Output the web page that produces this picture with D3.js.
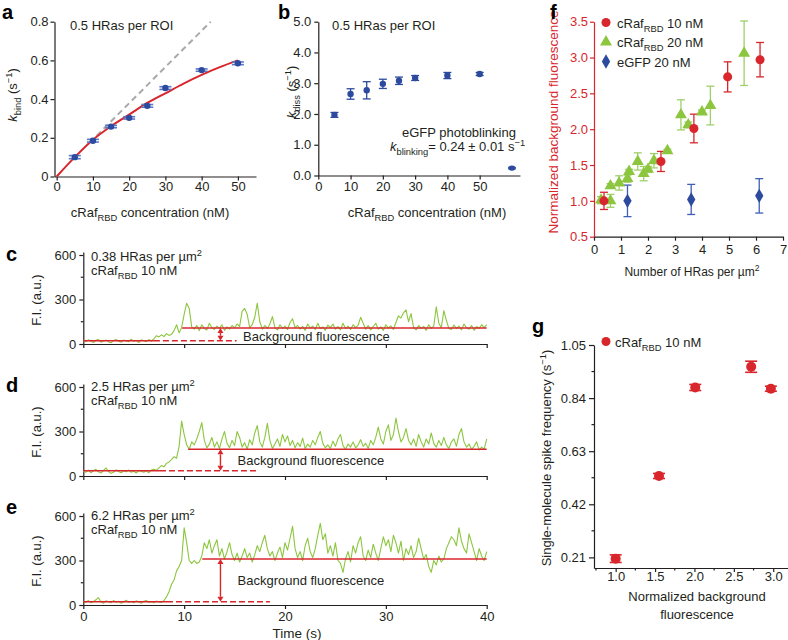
<!DOCTYPE html>
<html><head><meta charset="utf-8">
<script src="https://cdn.jsdelivr.net/npm/d3@7"></script>
<style>
body{margin:0;background:#fff;}
svg{font-family:"Liberation Sans",Arial,Helvetica,sans-serif;}
</style></head><body>
<svg id="fig" width="788" height="640"></svg>
<script>
// ---------------- DATA ----------------
// panel a
const concA = [5,10,15,20,25,30,40,50];
const kBind = [0.100,0.185,0.258,0.303,0.365,0.457,0.550,0.585];
const kBindErr = [0.008,0.007,0.006,0.006,0.007,0.007,0.006,0.007];
const fitConc = [0,5,10,15,20,25,30,35,40,45,50];
const fitK = [0,0.10,0.19,0.26,0.32,0.38,0.43,0.48,0.525,0.565,0.60];
const slopeConc = [11,42.5];
const slopeK = [0.21,0.80];
// panel b
const concB = [5,10,15,20,25,30,40,50];
const kDiss = [1.97,2.65,2.77,2.98,3.08,3.17,3.25,3.30];
const kDissErr = [0.08,0.17,0.28,0.15,0.12,0.08,0.10,0.05];
const blinkX = [60];
const blinkK = [0.24];
const blinkErr = [0.02];
// panels c, d, e : fluorescence traces (0..40 s, 0.25 s steps)
const traceC = [22,15,28,18,10,25,30,12,20,26,14,8,24,30,18,12,26,20,15,32,18,24,10,28,22,16,30,20,
 35,55,48,62,50,70,58,65,90,130,75,110,200,275,240,115,
 100,125,90,130,105,95,140,110,98,120,105,130,92,115,100,125,108,135,118,
 220,240,200,110,130,180,275,150,100,125,105,135,185,110,95,130,105,120,98,145,170,110,
 125,100,118,92,135,108,120,98,140,105,115,92,128,110,135,100,118,95,140,105,120,98,130,110,125,
 180,140,
 100,125,95,118,140,100,115,92,130,108,122,98,145,
 190,175,210,230,150,205,110,
 95,125,105,118,92,130,105,120,
 250,140,110,225,160,
 105,98,128,105,120,95,135,110,100,125,92,118,105,130,110,130];
const traceD = [30,25,40,22,35,45,28,20,38,55,30,18,25,42,30,22,35,28,40,25,32,20,38,30,26,35,22,40,
 45,38,55,70,62,85,95,110,130,120,200,370,280,210,180,230,
 210,250,300,360,240,190,215,260,195,230,185,250,300,220,190,240,205,300,260,195,
 225,180,245,210,290,340,230,195,260,355,240,185,215,250,200,280,230,270,205,240,
 190,225,200,255,185,215,195,240,210,260,300,220,190,210,185,235,200,250,280,205,
 180,215,195,230,190,210,245,200,220,185,240,210,260,330,250,215,300,345,240,280,
 390,300,230,260,320,240,210,250,200,280,230,195,250,215,290,220,195,240,205,260,
 210,185,230,250,200,280,320,230,195,215,180,200,230,175,195,180,250];
const traceE = [25,18,30,15,22,35,50,20,12,28,22,15,30,18,25,12,20,32,18,24,15,28,20,12,25,30,18,22,15,26,20,18,
 30,55,90,140,170,230,260,300,520,420,300,280,300,280,290,330,
 420,380,440,350,400,440,330,380,310,360,420,340,300,350,290,330,380,320,350,290,
 340,400,360,420,470,380,330,360,300,350,390,320,420,370,450,530,380,320,360,300,
 400,450,360,320,380,470,550,440,480,350,400,330,420,300,280,220,310,360,290,400,
 350,420,460,330,300,370,320,410,350,300,380,460,400,440,360,470,420,350,430,300,
 380,340,400,320,360,450,380,310,340,260,220,300,270,330,290,310,380,420,460,440,
 400,520,430,380,350,480,420,360,300,380,330,300,360];
const traceLabels = ["c","d","e"];
const traceDensity = ["0.38","2.5","6.2"];
const baseLevel = [22,35,22];
const plateauLevel = [108,180,310];
const baseEnd = [7.0,7.6,8.3];
const dashEnd = [15.2,17.4,18.5];
const plateauStart = [9.8,10.4,11.8];
const arrowTime = [13.6,13.6,13.6];
const timeTicks = [0,10,20,30,40];
// panel f
const f10x = [0.37,2.48,3.70,4.95,6.15];
const f10y = [1.00,1.55,2.01,2.73,2.97];
const f10e = [0.12,0.14,0.20,0.21,0.24];
const f20x = [0.26,0.61,0.61,0.93,1.24,1.30,1.62,1.84,2.00,2.22,2.72,3.22,3.49,4.00,4.31,5.56];
const f20y = [1.01,1.00,1.21,1.25,1.31,1.41,1.55,1.38,1.44,1.56,1.70,2.20,2.06,2.24,2.33,3.06];
const f20e = [0.05,0.09,0.03,0.10,0.05,0.03,0.12,0.10,0.04,0.10,0.02,0.21,0.04,0.03,0.27,0.45];
const fGx = [1.24,3.60,6.12];
const fGy = [1.00,1.02,1.07];
const fGe = [0.22,0.21,0.24];
// panel g
const gX = [1.00,1.55,2.01,2.72,2.97];
const gY = [0.205,0.532,0.882,0.964,0.877];
const gE = [0.015,0.010,0.012,0.022,0.010];

// ---------------- STYLE ----------------
const FONT = '"Liberation Sans", Arial, Helvetica, sans-serif';
const FS = 13;
const RED = "#d8262c", GREEN = "#8cc63f", BLUE = "#2c4a9e", BLUE2 = "#5a78c8", INK = "#231f20";
const svg = d3.select("#fig");

function rich(textSel, segs, fs){
  let off = 0;
  segs.forEach(s=>{
    const seg = (typeof s === "string") ? [s,""] : s;
    const kind = seg[1] || "";
    const target = kind==="sub" ? fs*0.32 : kind==="sup" ? -fs*0.42 : 0;
    const ts = textSel.append("tspan").text(seg[0]).attr("dy", target-off);
    off = target;
    if(kind==="sub"||kind==="sup") ts.attr("font-size", fs*0.72);
    if(seg[2]==="i") ts.attr("font-style","italic");
  });
  return textSel;
}
function txt(g, x, y, segs, fs, opts={}){
  const t = g.append("text").attr("x",x).attr("y",y).attr("font-size",fs)
    .attr("fill", opts.fill||INK).attr("font-family",FONT)
    .attr("text-anchor", opts.anchor||"start");
  if(opts.weight) t.attr("font-weight",opts.weight);
  return rich(t, segs, fs);
}
function vtxt(g, x, y, segs, fs, opts={}){
  const gg = g.append("g").attr("transform",`translate(${x},${y}) rotate(-90)`);
  return txt(gg, 0, 0, segs, fs, Object.assign({anchor:"middle"},opts));
}
function styleAxis(ax, color){
  ax.attr("font-size",FS).attr("font-family",FONT);
  ax.select(".domain").attr("stroke",color).attr("stroke-width",1.2);
  ax.selectAll(".tick line").attr("stroke",color).attr("stroke-width",1.2);
  ax.selectAll(".tick text").attr("fill",color);
}
function minorTicks(g, vals, scale, orient, pos, len, color){
  vals.forEach(v=>{
    if(orient==="left") g.append("line").attr("x1",pos).attr("x2",pos-len).attr("y1",scale(v)).attr("y2",scale(v)).attr("stroke",color).attr("stroke-width",1.2);
    else g.append("line").attr("y1",pos).attr("y2",pos+len).attr("x1",scale(v)).attr("x2",scale(v)).attr("stroke",color).attr("stroke-width",1.2);
  });
}
function errBars(g, xs, ys, es, xS, yS, color, cw, sw){
  xs.forEach((x,i)=>{
    const px = xS(x), lo = yS(ys[i]-es[i]), hi = yS(ys[i]+es[i]);
    g.append("line").attr("x1",px).attr("x2",px).attr("y1",lo).attr("y2",hi).attr("stroke",color).attr("stroke-width",sw);
    g.append("line").attr("x1",px-cw).attr("x2",px+cw).attr("y1",lo).attr("y2",lo).attr("stroke",color).attr("stroke-width",sw);
    g.append("line").attr("x1",px-cw).attr("x2",px+cw).attr("y1",hi).attr("y2",hi).attr("stroke",color).attr("stroke-width",sw);
  });
}
function symbols(g, xs, ys, xS, yS, type, size, color){
  xs.forEach((x,i)=>{
    g.append("path").attr("d", d3.symbol().type(type).size(size)())
     .attr("transform",`translate(${xS(x)},${yS(ys[i])})`).attr("fill",color);
  });
}
const panelLabel = (x,y,t)=> svg.append("text").attr("x",x).attr("y",y).text(t)
  .attr("font-size",20).attr("font-weight","bold").attr("font-family",FONT).attr("fill","#000");

// ---------------- PANEL A ----------------
{
  const g = svg.append("g");
  const x = d3.scaleLinear().domain([-0.6,55]).range([54.5,256]);
  const y = d3.scaleLinear().domain([0,0.8]).range([176.5,21.7]);
  const ax = g.append("g").attr("transform",`translate(0,${y(0)})`)
    .call(d3.axisBottom(x).tickValues([0,10,20,30,40,50]).tickSize(4).tickPadding(1).tickSizeOuter(0));
  styleAxis(ax, INK);
  const ay = g.append("g").attr("transform",`translate(${x(-0.6)},0)`)
    .call(d3.axisLeft(y).tickValues([0,0.2,0.4,0.6,0.8]).tickFormat(d=>d===0?"0":d3.format(".1f")(d)).tickSize(4).tickPadding(2).tickSizeOuter(0));
  styleAxis(ay, INK);
  g.append("path").datum(slopeConc.map((c,i)=>[c,slopeK[i]]))
    .attr("d", d3.line().x(d=>x(d[0])).y(d=>y(d[1])))
    .attr("stroke","#a9a9a9").attr("stroke-width",2).attr("stroke-dasharray","6,4").attr("fill","none");
  g.append("path").datum(fitConc.map((c,i)=>[c,fitK[i]]))
    .attr("d", d3.line().curve(d3.curveMonotoneX).x(d=>x(d[0])).y(d=>y(d[1])))
    .attr("stroke",RED).attr("stroke-width",2).attr("fill","none");
  errBars(g, concA, kBind, kBindErr, x, y, BLUE2, 6, 1.6);
  concA.forEach((c,i)=> g.append("circle").attr("cx",x(c)).attr("cy",y(kBind[i])).attr("r",3.2).attr("fill",BLUE));
  txt(g, 70, 30, ["0.5 HRas per ROI"], FS);
  vtxt(g, 17, 95, [["k","","i"],["bind","sub"]," (s",["−1","sup"],")"], FS);
  txt(g, 150, 217, ["cRaf",["RBD","sub"]," concentration (nM)"], FS, {anchor:"middle"});
  panelLabel(2,19,"a");
}
// ---------------- PANEL B ----------------
{
  const g = svg.append("g");
  const x = d3.scaleLinear().domain([0,62.5]).range([318.3,520]);
  const y = d3.scaleLinear().domain([0,5]).range([175.5,21.7]);
  const ax = g.append("g").attr("transform",`translate(0,${y(0)})`)
    .call(d3.axisBottom(x).tickValues([0,10,20,30,40,50]).tickSize(4).tickPadding(2).tickSizeOuter(0));
  styleAxis(ax, INK);
  const ay = g.append("g").attr("transform",`translate(${x(0)},0)`)
    .call(d3.axisLeft(y).tickValues([0,1,2,3,4,5]).tickSize(4).tickPadding(3).tickSizeOuter(0));
  styleAxis(ay, INK);
  errBars(g, concB, kDiss, kDissErr, x, y, BLUE, 4, 1.3);
  concB.forEach((c,i)=> g.append("circle").attr("cx",x(c)).attr("cy",y(kDiss[i])).attr("r",3.2).attr("fill",BLUE));
  errBars(g, blinkX, blinkK, blinkErr, x, y, BLUE2, 4, 1.3);
  blinkX.forEach((c,i)=> g.append("ellipse").attr("cx",x(c)).attr("cy",y(blinkK[i])).attr("rx",3.6).attr("ry",2.6).attr("fill",BLUE));
  txt(g, 332, 30, ["0.5 HRas per ROI"], FS);
  txt(g, 402, 137, ["eGFP photoblinking"], FS);
  txt(g, 390, 151, [["k","","i"],["blinking","sub"],"= 0.24 ± 0.01 s",["−1","sup"]], FS);
  vtxt(g, 296, 92, [["k","","i"],["diss","sub"]," (s",["−1","sup"],")"], FS);
  txt(g, 427, 217, ["cRaf",["RBD","sub"]," concentration (nM)"], FS, {anchor:"middle"});
  panelLabel(278,19,"b");
}
// ---------------- PANELS C, D, E ----------------
{
  const traces = [traceC, traceD, traceE];
  const zeroY = [344, 476, 605];
  const labelY = [261, 391, 520];
  const panelY = [261, 392, 514];
  const x = d3.scaleLinear().domain([0,40]).range([83.3,486.7]);
  traces.forEach((tr,k)=>{
    const g = svg.append("g");
    const y = d3.scaleLinear().domain([0,620]).range([zeroY[k], zeroY[k]-620*0.14833]);
    const ax = g.append("g").attr("transform",`translate(0,${zeroY[k]})`)
      .call(d3.axisBottom(x).tickValues(timeTicks).tickSize(4).tickPadding(3).tickSizeOuter(0)
        .tickFormat(k===2? d3.format("d") : ()=>""));
    styleAxis(ax, INK);
    const ay = g.append("g").attr("transform",`translate(${x(0)},0)`)
      .call(d3.axisLeft(y).tickValues([0,300,600]).tickSize(4).tickPadding(3).tickSizeOuter(0));
    styleAxis(ay, INK);
    minorTicks(g, [150,450], y, "left", x(0), 2.5, INK);
    const dt = 40/(tr.length-1);
    g.append("path").datum(tr)
      .attr("d", d3.line().x((d,i)=>x(i*dt)).y(d=>y(d)))
      .attr("stroke",GREEN).attr("stroke-width",1.1).attr("fill","none").attr("stroke-linejoin","round");
    g.append("line").attr("x1",x(0)).attr("x2",x(baseEnd[k])).attr("y1",y(baseLevel[k])).attr("y2",y(baseLevel[k]))
      .attr("stroke",RED).attr("stroke-width",1.6);
    g.append("line").attr("x1",x(baseEnd[k])).attr("x2",x(dashEnd[k])).attr("y1",y(baseLevel[k])).attr("y2",y(baseLevel[k]))
      .attr("stroke",RED).attr("stroke-width",1.6).attr("stroke-dasharray","6,3");
    g.append("line").attr("x1",x(plateauStart[k])).attr("x2",x(40)).attr("y1",y(plateauLevel[k])).attr("y2",y(plateauLevel[k]))
      .attr("stroke",RED).attr("stroke-width",1.6);
    const ax0 = x(arrowTime[k]), yTop = y(plateauLevel[k]), yBot = y(baseLevel[k]);
    const ah = Math.min(5, (yBot-yTop)/2.5);
    g.append("line").attr("x1",ax0).attr("x2",ax0).attr("y1",yTop+ah).attr("y2",yBot-ah).attr("stroke",RED).attr("stroke-width",1.4);
    g.append("path").attr("d",`M${ax0},${yTop}L${ax0-3},${yTop+ah}L${ax0+3},${yTop+ah}Z`).attr("fill",RED);
    g.append("path").attr("d",`M${ax0},${yBot}L${ax0-3},${yBot-ah}L${ax0+3},${yBot-ah}Z`).attr("fill",RED);
    const textY = k===0 ? 341 : (yTop+yBot)/2 + 5;
    txt(g, k===0 ? 243 : 237.5, textY, ["Background fluorescence"], FS);
    txt(g, 91, labelY[k], [traceDensity[k]+" HRas per µm",["2","sup"]], FS);
    txt(g, 91, labelY[k]+14, ["cRaf",["RBD","sub"]," 10 nM"], FS);
    vtxt(g, 41, zeroY[k]-44, ["F.I. (a.u.)"], FS);
    panelLabel(6, panelY[k], traceLabels[k]);
    if(k===2) txt(g, 297, 638, ["Time (s)"], 13.5, {anchor:"middle"});
  });
}
// ---------------- PANEL F ----------------
{
  const g = svg.append("g");
  const x = d3.scaleLinear().domain([0,7]).range([594,783]);
  const y = d3.scaleLinear().domain([0.5,3.5]).range([236.7,21.7]);
  const ax = g.append("g").attr("transform",`translate(0,${y(0.5)})`)
    .call(d3.axisBottom(x).tickValues([0,1,2,3,4,5,6,7]).tickFormat(d3.format("d")).tickSize(4).tickPadding(4).tickSizeOuter(0));
  styleAxis(ax, INK);
  const ay = g.append("g").attr("transform",`translate(${x(0)},0)`)
    .call(d3.axisLeft(y).tickValues([0.5,1,1.5,2,2.5,3,3.5]).tickFormat(d3.format(".1f")).tickSize(4).tickPadding(2).tickSizeOuter(0));
  styleAxis(ay, RED);
  errBars(g, fGx, fGy, fGe, x, y, "#3f5fb5", 4, 1.3);
  errBars(g, f20x, f20y, f20e, x, y, "#9fcf6a", 4, 1.3);
  errBars(g, f10x, f10y, f10e, x, y, RED, 4, 1.3);
  symbols(g, fGx, fGy, x, y, d3.symbolDiamond, 60, BLUE);
  symbols(g, f20x, f20y, x, y, d3.symbolTriangle, 62, GREEN);
  symbols(g, f10x, f10y, x, y, d3.symbolCircle, 64, RED);
  g.append("path").attr("d",d3.symbol().type(d3.symbolCircle).size(64)()).attr("transform","translate(606,22.5)").attr("fill",RED);
  g.append("path").attr("d",d3.symbol().type(d3.symbolTriangle).size(62)()).attr("transform","translate(606,42)").attr("fill",GREEN);
  g.append("path").attr("d",d3.symbol().type(d3.symbolDiamond).size(60)()).attr("transform","translate(606,61.5)").attr("fill",BLUE);
  txt(g, 617, 27.5, ["cRaf",["RBD","sub"]," 10 nM"], FS);
  txt(g, 617, 47, ["cRaf",["RBD","sub"]," 20 nM"], FS);
  txt(g, 617, 66.5, ["eGFP 20 nM"], FS);
  vtxt(g, 558, 122, ["Normalized background fluorescence"], 13.5, {fill:RED});
  txt(g, 692, 276, ["Number of HRas per µm",["2","sup"]], 12, {anchor:"middle"});
  panelLabel(550,19,"f");
}
// ---------------- PANEL G ----------------
{
  const g = svg.append("g");
  const x = d3.scaleLinear().domain([0.725,3.2]).range([594,789]);
  const y = d3.scaleLinear().domain([0.168,1.05]).range([568,345]);
  const ax = g.append("g").attr("transform",`translate(0,${y(0.168)})`)
    .call(d3.axisBottom(x).tickValues([1,1.5,2,2.5,3]).tickFormat(d3.format(".1f")).tickSize(4).tickPadding(0).tickSizeOuter(0));
  styleAxis(ax, INK);
  const ay = g.append("g").attr("transform",`translate(${x(0.725)},0)`)
    .call(d3.axisLeft(y).tickValues([0.21,0.42,0.63,0.84,1.05]).tickFormat(d3.format(".2f")).tickSize(5).tickPadding(3).tickSizeOuter(0));
  styleAxis(ay, INK);
  minorTicks(g, [0.75,1.25,1.75,2.25,2.75], x, "bottom", y(0.168), 2.5, INK);
  minorTicks(g, [0.315,0.525,0.735,0.945], y, "left", x(0.725), 2.5, INK);
  errBars(g, gX, gY, gE, x, y, RED, 6, 1.6);
  gX.forEach((v,i)=> g.append("circle").attr("cx",x(v)).attr("cy",y(gY[i])).attr("r",5).attr("fill",RED));
  g.append("circle").attr("cx",606).attr("cy",341.5).attr("r",4.5).attr("fill",RED);
  txt(g, 615, 346.5, ["cRaf",["RBD","sub"]," 10 nM"], FS);
  vtxt(g, 551, 458, ["Single-molecule spike frequency (s",["−1","sup"],")"], FS);
  txt(g, 697, 601, ["Normalized background"], FS, {anchor:"middle"});
  txt(g, 697, 619, ["fluorescence"], FS, {anchor:"middle"});
  panelLabel(532,333,"g");
}
</script>
</body></html>
